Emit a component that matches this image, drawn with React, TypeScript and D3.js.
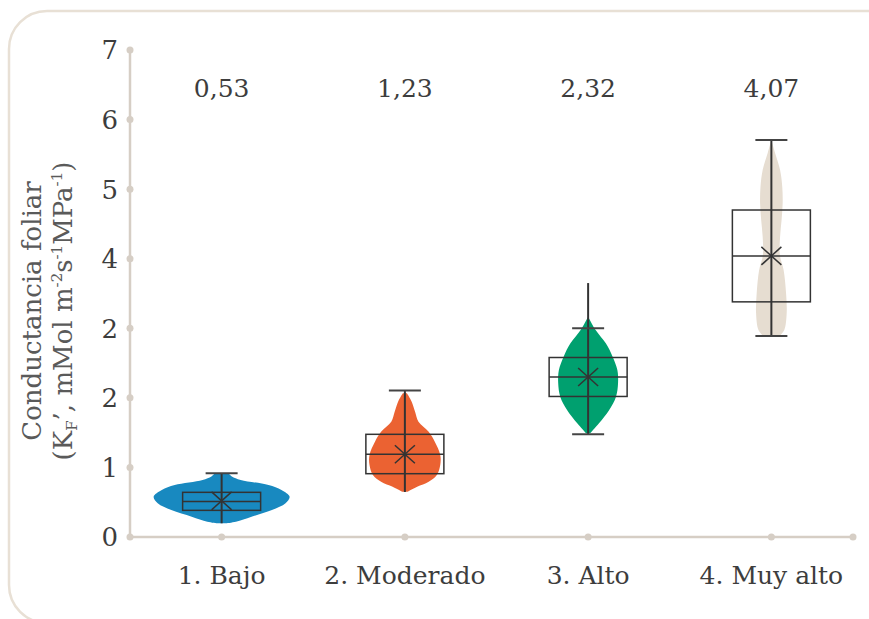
import React from "react";
import * as d3 from "d3";

const categories = ["1. Bajo", "2. Moderado", "3. Alto", "4. Muy alto"];
const meanLabels = ["0,53", "1,23", "2,32", "4,07"];
const colors = ["#1889c0", "#eb6232", "#00a06f", "#e6ddd1"];
const yTickValues = [0, 1, 2, 3, 4, 5, 6, 7];
const yTickLabels = ["0", "1", "2", "2", "4", "5", "6", "7"];

const means = [0.52, 1.19, 2.3, 4.04];
const q1 = [0.383, 0.91, 2.02, 3.38];
const medians = [0.51, 1.19, 2.3, 4.04];
const q3 = [0.642, 1.476, 2.58, 4.7];
const lineLow = [0.197, 0.647, 1.476, 2.889];
const lineHigh = [0.915, 2.107, 3.65, 5.707];
const capLow: (number | null)[] = [null, null, 1.476, 2.889];
const capHigh: (number | null)[] = [0.915, 2.107, 3.0, 5.707];

// violin density profiles: [value, relative density]
const violinBajo: [number, number][] = [
  [0.197, 0.06], [0.22, 0.21], [0.292, 0.44], [0.388, 0.74], [0.484, 0.94],
  [0.58, 1.0], [0.676, 0.88], [0.747, 0.69], [0.82, 0.28], [0.87, 0.15], [0.915, 0.1],
];
const violinModerado: [number, number][] = [
  [0.651, 0.04], [0.723, 0.18], [0.795, 0.35], [0.891, 0.47], [1.035, 0.52],
  [1.179, 0.52], [1.37, 0.44], [1.514, 0.35], [1.657, 0.2], [1.8, 0.15],
  [1.945, 0.1], [2.065, 0.03],
];
const violinAlto: [number, number][] = [
  [1.49, 0.03], [1.634, 0.16], [1.825, 0.31], [2.017, 0.41], [2.21, 0.44],
  [2.4, 0.43], [2.592, 0.36], [2.784, 0.26], [2.975, 0.11], [3.167, 0.0],
];
const violinMuyAlto: [number, number][] = [
  [2.889, 0.12], [2.975, 0.19], [3.215, 0.225], [3.503, 0.216], [3.838, 0.18],
  [4.05, 0.125], [4.317, 0.128], [4.557, 0.15], [4.8, 0.166], [5.035, 0.16],
  [5.275, 0.128], [5.52, 0.054], [5.707, 0.0],
];
const violins = [violinBajo, violinModerado, violinAlto, violinMuyAlto];

const W = 869;
const H = 619;
const axisX0 = 130;
const axisX1 = 853;
const yTop = 50;
const yBottom = 537;

export default function App() {
  const y = d3.scaleLinear().domain([0, 7]).range([yBottom, yTop]);
  const x = d3.scaleBand<string>().domain(categories).range([130, 863]);
  const cx = (i: number) => (x(categories[i]) as number) + x.bandwidth() / 2;
  const wScale = d3.scaleLinear().domain([0, 1]).range([0, 68]);
  const axisColor = "#d6cec5";
  const textColor = "#3d3d3d";
  const font = "'DejaVu Serif', serif";

  return (
    <svg width={W} height={H} style={{ position: "absolute", left: 0, top: 0 }}>
      <rect x={9} y={11} width={920} height={612} rx={38} ry={38} fill="none" stroke="#e8e0d5" strokeWidth={2.5} />

      {/* y title */}
      <g transform="translate(0,311) rotate(-90)" fill="#5a5a5a" fontFamily={font} fontSize={26} textAnchor="middle">
        <text x={0} y={41}>Conductancia foliar</text>
        <text x={0} y={72}>
          (K<tspan fontSize={15} dy={5}>F</tspan>
          <tspan dy={-5}>’, mMol m</tspan>
          <tspan fontSize={15} dy={-10}>-2</tspan>
          <tspan dy={10}>s</tspan>
          <tspan fontSize={15} dy={-10}>-1</tspan>
          <tspan dy={10}>MPa</tspan>
          <tspan fontSize={15} dy={-10}>-1</tspan>
          <tspan dy={10}>)</tspan>
        </text>
      </g>

      {/* axes */}
      <line x1={axisX0} x2={axisX0} y1={y(7)} y2={y(0)} stroke={axisColor} strokeWidth={2.5} />
      <line x1={axisX0} x2={axisX1} y1={y(0)} y2={y(0)} stroke={axisColor} strokeWidth={2.5} />
      {yTickValues.map((v, i) => (
        <g key={"yt" + i}>
          <circle cx={axisX0} cy={y(v)} r={3.5} fill={axisColor} />
          <text x={118} y={y(v)} dy="0.36em" textAnchor="end" fill={textColor} fontFamily={font} fontSize={26}>
            {yTickLabels[i]}
          </text>
        </g>
      ))}
      <circle cx={axisX1} cy={y(0)} r={3.5} fill={axisColor} />
      {categories.map((c, i) => (
        <g key={"xt" + i}>
          <circle cx={cx(i)} cy={y(0)} r={3.5} fill={axisColor} />
          <text x={cx(i)} y={584} textAnchor="middle" fill={textColor} fontFamily={font} fontSize={25}>
            {c}
          </text>
          <text x={cx(i)} y={97} textAnchor="middle" fill={textColor} fontFamily={font} fontSize={25}>
            {meanLabels[i]}
          </text>
        </g>
      ))}

      {/* violins + boxes */}
      {categories.map((c, i) => {
        const center = cx(i);
        const area = d3
          .area<[number, number]>()
          .y((d) => y(d[0]))
          .x0((d) => center - wScale(d[1]))
          .x1((d) => center + wScale(d[1]))
          .curve(d3.curveCatmullRom);
        const bw = 78;
        const capW = 16;
        const lo = capLow[i];
        const hi = capHigh[i];
        return (
          <g key={"v" + i}>
            <path d={area(violins[i]) || ""} fill={colors[i]} />
            <rect x={center - bw / 2} y={y(q3[i])} width={bw} height={y(q1[i]) - y(q3[i])} fill="none" stroke="#333" strokeWidth={1.5} />
            <line x1={center - bw / 2} x2={center + bw / 2} y1={y(medians[i])} y2={y(medians[i])} stroke="#333" strokeWidth={1.5} />
            <line x1={center} x2={center} y1={y(lineLow[i])} y2={y(lineHigh[i])} stroke="#333" strokeWidth={2} />
            {hi !== null && (
              <line x1={center - capW} x2={center + capW} y1={y(hi)} y2={y(hi)} stroke="#444" strokeWidth={2} />
            )}
            {lo !== null && (
              <line x1={center - capW} x2={center + capW} y1={y(lo)} y2={y(lo)} stroke="#444" strokeWidth={2} />
            )}
            <line x1={center - 10} x2={center + 10} y1={y(means[i]) - 9} y2={y(means[i]) + 9} stroke="#333" strokeWidth={1.5} />
            <line x1={center - 10} x2={center + 10} y1={y(means[i]) + 9} y2={y(means[i]) - 9} stroke="#333" strokeWidth={1.5} />
          </g>
        );
      })}
    </svg>
  );
}
